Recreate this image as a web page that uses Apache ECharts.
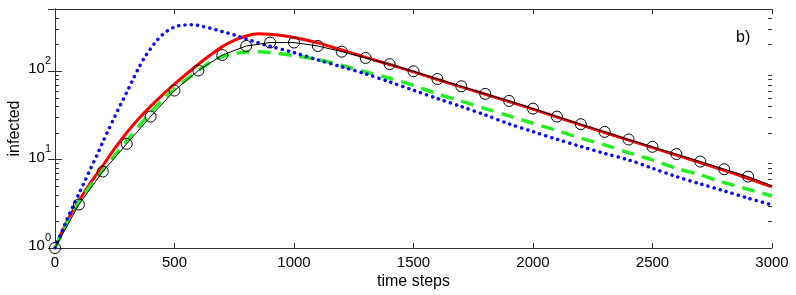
<!DOCTYPE html>
<html>
<head>
<meta charset="utf-8">
<script src="https://cdn.jsdelivr.net/npm/echarts@6/dist/echarts.min.js"></script>
<style>
html,body{margin:0;padding:0;background:#fff;}
#chart{width:796px;height:295px;}
</style>
</head>
<body>
<div id="chart"></div>
<script>
// ---- data ----
const xTicks = [0, 500, 1000, 1500, 2000, 2500, 3000];
const yMinorTicks = [2,3,4,5,6,7,8,9,20,30,40,50,60,70,80,90,200,300,400];

const tBlack = [0,100,200,300,400,500,600,700,800,900,1000,1100,1200,1300,1400,1500,1600,1700,1800,1900,2000,2100,2200,2300,2400,2500,2600,2700,2800,2900,3000];
const blackV = [1,3.1,7.3,15,30.5,60,101,151,191,209,209,191,165,140,119,99,81,67,55,45.8,37.5,30.5,25,20.5,16.8,13.9,11.5,9.45,7.75,6.4,5.05];

const tRed = [0,50,100,150,200,250,300,350,400,450,500,550,600,650,700,750,800,850,900,950,1000,1100,1200,1300,1400,1500,1600,1800,2000,2200,2400,2600,2800,3000];
const redV = [1,2.0,3.39,5.5,8.5,13.3,20,28.8,39.8,53.7,70.8,92.3,119,151,188,221,248,262,260,251,238,207,172,142,118,97.5,80,54.5,37,24.6,16.5,11.2,7.55,4.9];

const tGreen = [0,50,100,150,200,250,300,350,400,450,500,550,600,650,700,750,800,850,900,1000,1100,1200,1300,1400,1500,1600,1700,1800,1900,2000,2100,2200,2300,2400,2500,2600,2700,2800,2900,3000];
const greenV = [1,1.9,3.3,5.1,7.5,11.1,16.3,23.5,34,47,62,80,101,126,145,157,163,164,161,149,134,115,97.5,82.5,68.5,55,45.5,37.5,31,25.6,21.2,17.4,14.6,11.9,9.87,7.95,6.68,5.47,4.6,3.87];

const tBlue = [0,25,50,75,100,125,150,175,200,225,250,275,300,325,350,375,400,425,450,475,500,525,550,575,600,650,700,750,800,850,900,1000,1100,1200,1300,1400,1500,1600,1700,1800,1900,2000,2100,2200,2300,2400,2500,2600,2700,2800,2900,3000];
const blueV = [1,1.45,2.1,2.95,4.1,5.7,8.0,11.1,15.7,22,30.5,42,57,79,108,142,178,218,257,289,313,327,331,331,326,303,278,255,229,208,190,161,133,111,92.5,75,60.5,48.7,39.5,31.8,25.2,20.6,16.9,14.0,11.7,9.87,7.95,6.4,5.29,4.41,3.65,3.06];

// ---- build ----
const pairs = (t, v) => t.map((x, i) => [x, v[i]]);
const blackData = pairs(tBlack, blackV).map((p) => p[0] === 3000 ? {value: p, symbol: 'none'} : p);
const FONT = '"Liberation Sans", Arial, sans-serif';
const AX = '#333';

const chart = echarts.init(document.getElementById('chart'), null, {renderer: 'canvas'});

function supLabel(v) {
  const e = Math.round(Math.log10(v));
  if (Math.abs(Math.pow(10, e) - v) > 1e-6 * v) return '';
  return '{b|10}{s|' + e + '}';
}

chart.setOption({
  animation: false,
  backgroundColor: '#fff',
  grid: {left: 55, right: 24, top: 9, bottom: 47, containLabel: false, outerBoundsMode: 'none'},
  xAxis: [{
    type: 'value', min: 0, max: 3000, interval: 500, position: 'bottom',
    name: 'time steps', nameLocation: 'middle', nameGap: 26, nameMoveOverlap: false,
    nameTextStyle: {fontFamily: FONT, fontSize: 16, color: '#000'},
    axisLine: {show: true, lineStyle: {color: AX, width: 1}},
    axisTick: {show: true, inside: true, length: 5, lineStyle: {color: AX}},
    axisLabel: {fontFamily: FONT, fontSize: 15, color: '#000', margin: 7,
      formatter: (v) => xTicks.indexOf(v) >= 0 ? String(v) : ''},
    splitLine: {show: false}
  }, {
    type: 'value', min: 0, max: 3000, interval: 500, position: 'top',
    axisLine: {show: true, lineStyle: {color: AX, width: 1}},
    axisTick: {show: true, inside: true, length: 5, lineStyle: {color: AX}},
    axisLabel: {show: false}, splitLine: {show: false}
  }],
  yAxis: [{
    type: 'log', logBase: 10, min: 1, max: 500, position: 'left',
    name: 'infected', nameLocation: 'middle', nameGap: 32, nameRotate: 90, nameMoveOverlap: false,
    nameTextStyle: {fontFamily: FONT, fontSize: 16, color: '#000'},
    axisLine: {show: true, lineStyle: {color: AX, width: 1}},
    axisTick: {show: true, inside: true, length: 7, lineStyle: {color: AX}},
    minorTick: {show: false},
    axisLabel: {
      margin: 4, formatter: supLabel, padding: [0, 0, 4, 0],
      rich: {
        b: {fontFamily: FONT, fontSize: 15, lineHeight: 15, color: '#000', verticalAlign: 'bottom'},
        s: {fontFamily: FONT, fontSize: 11, lineHeight: 12, color: '#000', verticalAlign: 'bottom', padding: [0, 0, 10, 0]}
      }
    },
    splitLine: {show: false}
  }, {
    type: 'log', logBase: 10, min: 1, max: 500, position: 'right',
    axisLine: {show: true, lineStyle: {color: AX, width: 1}},
    axisTick: {show: true, inside: true, length: 7, lineStyle: {color: AX}},
    minorTick: {show: false},
    axisLabel: {show: false}, splitLine: {show: false}
  }],
  graphic: [{
    type: 'text', left: 736, top: 30,
    style: {text: 'b)', fontFamily: FONT, fontSize: 16, fill: '#000'}
  }],
  series: [
    {
      type: 'custom', xAxisIndex: 0, yAxisIndex: 0, silent: true, clip: false, z: 1,
      data: yMinorTicks.map((v) => [0, v]),
      renderItem: function (params, api) {
        const v = api.value(1);
        const pl = api.coord([0, v]);
        const pr = api.coord([3000, v]);
        const y = Math.round(pl[1]) + 0.5;
        return {type: 'group', children: [
          {type: 'line', shape: {x1: pl[0], y1: y, x2: pl[0] + 4, y2: y}, style: {stroke: AX, lineWidth: 1}},
          {type: 'line', shape: {x1: pr[0] - 4, y1: y, x2: pr[0], y2: y}, style: {stroke: AX, lineWidth: 1}}
        ]};
      }
    },
    {
      name: 'red', type: 'line', data: pairs(tRed, redV), smooth: 0.3, showSymbol: false, symbol: 'none',
      lineStyle: {color: '#ff0000', width: 3}, z: 3
    },
    {
      name: 'green', type: 'line', data: pairs(tGreen, greenV), smooth: 0.3, showSymbol: false, symbol: 'none',
      lineStyle: {color: '#22ee22', width: 3.5, type: [13, 8]}, z: 4
    },
    {
      name: 'blue', type: 'line', data: pairs(tBlue, blueV), smooth: 0.3, showSymbol: false, symbol: 'none',
      lineStyle: {color: '#0a0af5', width: 3.5, type: [0.1, 6.2], cap: 'round'}, z: 5
    },
    {
      name: 'black', type: 'line', data: blackData, smooth: false, clip: false,
      symbol: 'circle', symbolSize: 11, showSymbol: true,
      itemStyle: {color: 'rgba(0,0,0,0)', borderColor: '#000', borderWidth: 1},
      lineStyle: {color: '#000', width: 1}, z: 6
    }
  ]
});
</script>
</body>
</html>
